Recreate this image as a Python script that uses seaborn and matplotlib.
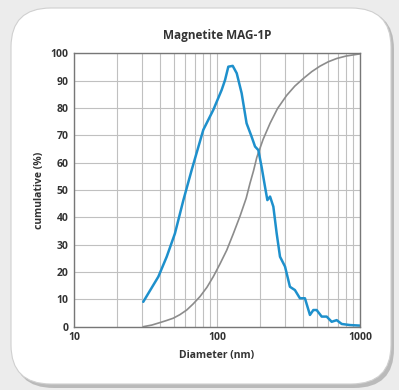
import numpy as np
import pandas as pd
import seaborn as sns
import matplotlib
matplotlib.use("Agg")
from matplotlib import pyplot as plt
from matplotlib.patches import FancyBboxPatch
from matplotlib.ticker import LogLocator, FixedLocator, NullFormatter

# particle size distribution (blue, scaled to peak ~95)
dist_d = [30.5, 38.9, 44.5, 50.8, 58.2, 66.5, 80.2, 94.2, 107.8, 113.8, 120, 128.8,
          137.4, 148.7, 161, 174.6, 184.5, 194.5, 205, 216.6, 225, 235, 247.8,
          261.4, 275.8, 299, 323.6, 350.6, 380, 412, 446.7, 471.8, 497.6, 539.5,
          584.8, 633.6, 687, 745, 851, 1000]
dist_v = [9.1, 18.3, 25.6, 34.1, 46.3, 57.3, 72, 79.3, 86.6, 90.2, 95.1, 95.4,
          92.7, 85.4, 74.4, 69.5, 65.9, 64.6, 58.5, 51.2, 46.3, 47.6, 43.9,
          34.1, 25.6, 22, 14.6, 13.4, 10.4, 10.4, 4.3, 6.1, 6.1, 3.7,
          3.7, 1.8, 2.4, 1.0, 0.6, 0.4]

# cumulative curve (grey)
cum_d = [30.5, 35, 39.9, 44, 49.4, 55, 61.4, 68, 76, 85, 94.2, 105, 117, 130, 145,
         160, 170, 180, 190, 210, 235, 265, 307, 350, 402, 460, 525, 600, 687, 800, 1000]
cum_v = [0, 0.6, 1.5, 2.2, 3.1, 4.4, 6.1, 8.3, 11, 14.4, 18.3, 23, 28, 34, 40.5,
         47, 52.4, 57, 62, 68.5, 74.4, 79.8, 84.6, 88, 90.8, 93.3, 95.3, 96.9, 98.1, 99, 99.8]

dist = pd.DataFrame({"d": dist_d, "v": dist_v})
cum = pd.DataFrame({"d": cum_d, "v": cum_v})

sns.set_style("white")
plt.rcParams["font.family"] = ["Open Sans", "DejaVu Sans"]

W, H = 399, 390
fig = plt.figure(figsize=(W / 100, H / 100), dpi=100)
fig.patch.set_facecolor("#ececec")

# card with shadow
shadow = FancyBboxPatch((14 / W, 1 - 388 / H), 380 / W, 378 / H,
                        boxstyle="round,pad=0,rounding_size=0.1",
                        transform=fig.transFigure, facecolor="#9a9a9a",
                        edgecolor="none", alpha=0.6, zorder=0)
card = FancyBboxPatch((11 / W, 1 - 384 / H), 380 / W, 376 / H,
                      boxstyle="round,pad=0,rounding_size=0.1",
                      transform=fig.transFigure, facecolor="white",
                      edgecolor="#d0d0d0", lw=0.8, zorder=1)
fig.patches.extend([shadow, card])

ax = fig.add_axes([74 / W, 1 - 326.7 / H, 286 / W, 273.4 / H])
ax.set_facecolor("white")
ax.set_zorder(2)

sns.lineplot(data=cum, x="d", y="v", ax=ax, color="#8c8c8c", lw=1.2)
sns.lineplot(data=dist, x="d", y="v", ax=ax, color="#1e90cc", lw=1.8)

ax.set_xscale("log")
ax.set_xlim(10, 1000)
ax.set_ylim(0, 100)
ax.yaxis.set_major_locator(FixedLocator(range(0, 101, 10)))
ax.xaxis.set_major_locator(LogLocator(base=10))
ax.xaxis.set_minor_locator(LogLocator(base=10, subs=np.arange(2, 10)))
ax.xaxis.set_minor_formatter(NullFormatter())
ax.set_xticks([10, 100, 1000])
ax.set_xticklabels(["10", "100", "1000"])

ax.grid(True, which="both", axis="x", color="#c0c0c0", lw=0.8)
ax.grid(True, which="major", axis="y", color="#c0c0c0", lw=0.8)
ax.tick_params(which="both", length=0)
ax.tick_params(axis="both", labelsize=7.5, colors="#333333", pad=4)
for lab in ax.get_xticklabels() + ax.get_yticklabels():
    lab.set_fontweight("bold")
for s in ax.spines.values():
    s.set_color("#777777")
    s.set_linewidth(1.0)

ax.set_xlabel("Diameter (nm)", fontsize=7.5, fontweight="bold", color="#333333", labelpad=5)
ax.set_ylabel("cumulative (%)", fontsize=7.5, fontweight="bold", color="#333333", labelpad=4)
ax.set_title("Magnetite MAG-1P", fontsize=8.5, fontweight="bold", color="#333333", pad=10)

fig.savefig("out.png", dpi=100)
